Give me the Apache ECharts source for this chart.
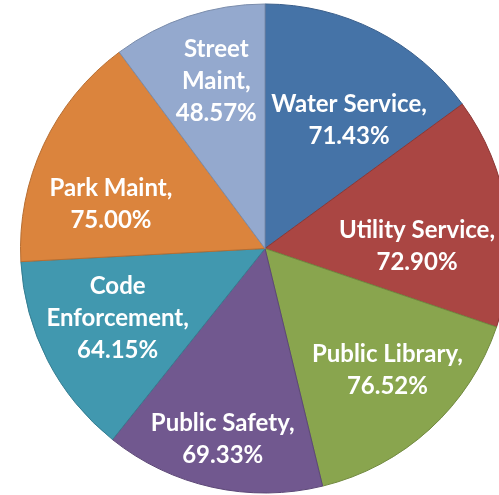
<!DOCTYPE html>
<html>
<head>
<meta charset="utf-8">
<style>html,body{margin:0;padding:0;background:#fff;}#c{width:499px;height:495px;}</style>
<script src="https://cdn.jsdelivr.net/npm/echarts@6/dist/echarts.min.js"></script>
</head>
<body>
<div id="c"></div>
<script>
const categories = ['Water Service', 'Utility Service', 'Public Library', 'Public Safety', 'Code Enforcement', 'Park Maint', 'Street Maint'];
const labelTexts = ['Water Service,', 'Utility Service,', 'Public Library,', 'Public Safety,', 'Code\nEnforcement,', 'Park Maint,', 'Street\nMaint,'];
const values = [71.43, 72.90, 76.52, 69.33, 64.15, 75.00, 48.57];
const colors = ['#4573A7', '#AA4643', '#89A54E', '#71588F', '#4198AF', '#DB843D', '#94A9CE'];
const borders = ['#385D8A', '#8C3836', '#71893F', '#5C4776', '#357D91', '#B66D31', '#7A8CAB'];
// fine label nudges (style only)
const labelNudgeX = [8, -14, 9, -6, 2, -2, 4];
const labelNudgeY = [22, 23, -2, 27, -7, 27, -8];

const chart = echarts.init(document.getElementById('c'));
const center = [265, 248.5];
chart.setOption({
  animation: false,
  series: [
    {
      type: 'pie',
      center: center,
      radius: [0, 244.5],
      startAngle: 90,
      clockwise: true,
      label: { show: false },
      labelLine: { show: false },
      silent: true,
      data: categories.map((c, i) => ({
        name: c, value: values[i],
        itemStyle: { color: colors[i], borderColor: borders[i], borderWidth: 1 }
      }))
    },
    {
      type: 'pie',
      center: center,
      radius: [85, 245],
      startAngle: 90,
      clockwise: true,
      silent: true,
      itemStyle: { color: 'rgba(0,0,0,0)' },
      labelLine: { show: false },
      label: {
        show: true,
        position: 'inside',
        color: '#fff',
        fontFamily: 'Lato',
        fontWeight: 'bold',
        fontSize: 24,
        lineHeight: 32,
        formatter: p => labelTexts[p.dataIndex] + '\n' + values[p.dataIndex].toFixed(2) + '%'
      },
      labelLayout: p => ({ dx: labelNudgeX[p.dataIndex], dy: labelNudgeY[p.dataIndex] }),
      data: categories.map((c, i) => ({ name: c, value: values[i] }))
    }
  ]
});
</script>
</body>
</html>
